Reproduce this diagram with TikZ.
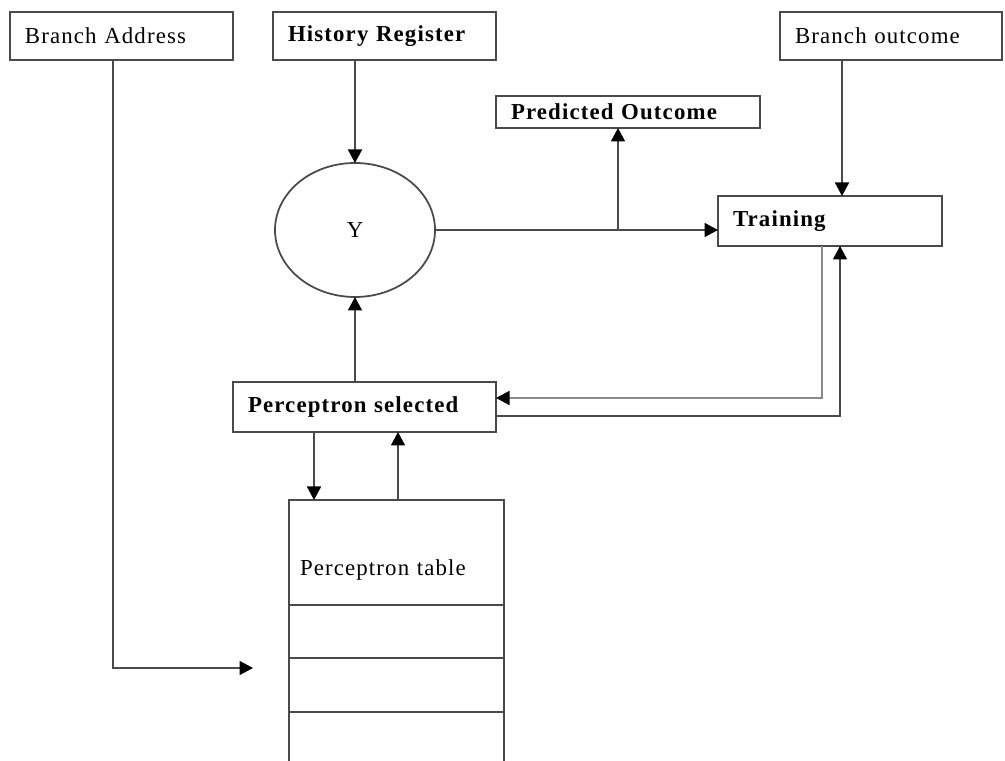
\documentclass[tikz,border=0pt]{standalone}
\usepackage{fontspec}
\setmainfont{Liberation Serif}[LetterSpace=5]
\usetikzlibrary{arrows.meta,positioning,shapes.geometric,calc}
\definecolor{ln}{HTML}{4A4A4A}
\definecolor{lite}{HTML}{8A8A8A}

\begin{document}
\begin{tikzpicture}[
  >={Triangle[length=2.7mm,width=2.8mm]},
  box/.style={draw=ln, line width=1pt, outer sep=0pt, inner xsep=0.3cm, align=left, font=\fontsize{13}{15}\selectfont},
  arr/.style={->, line width=1pt, color=ln, arrows={->[black]}},
]
\useasboundingbox (0,0) rectangle (20.1,15.22);

\node[box, text width=3.86cm, minimum height=0.96cm] (addr) at (2.43, 14.5) {Branch Address};
\node[box, text width=3.86cm, minimum height=0.96cm, font=\fontsize{13}{15}\selectfont\bfseries] (hist) at (7.69, 14.5) {History Register};
\node[box, text width=3.84cm, minimum height=0.96cm] (outc) at (17.82, 14.5) {Branch outcome};
\node[box, text width=4.68cm, minimum height=0.64cm, font=\fontsize{13}{15}\selectfont\bfseries] (pred) at (12.56, 12.98) {Predicted Outcome};
\node[box, text width=3.88cm, minimum height=1cm, font=\fontsize{13}{15}\selectfont\bfseries] (train) at (16.6, 10.8) {Training};
\node[draw=ln, line width=1pt, outer sep=0pt, ellipse, minimum width=3.2cm, minimum height=2.68cm, font=\fontsize{13}{15}\selectfont] (Y) at (7.1, 10.62) {Y};
\node[box, text width=4.66cm, minimum height=1cm, font=\fontsize{13}{15}\selectfont\bfseries] (sel) at (7.29, 7.08) {Perceptron selected};
\node[box, inner xsep=0.22cm, text width=3.86cm, text height=1cm, text depth=0.06cm, minimum height=2.1cm] (tbl) at (7.93, 4.17) {Perceptron table};

% open rows of the table
\draw[ln, line width=1pt] (tbl.south west) -- (tbl.west |- 0,0);
\draw[ln, line width=1pt] (tbl.south east) -- (tbl.east |- 0,0);
\foreach \yy in {2.06,0.98}
  \draw[ln, line width=1pt] (tbl.west |- 0,\yy) -- (tbl.east |- 0,\yy);

\coordinate (baend) at (5.06, 1.86);

\draw[arr] (hist.south -| Y.north) -- (Y.north);
\draw[arr] ([xshift=-1.7mm]addr.south) |- (baend);
\draw[arr] (Y.east) -- (Y.east -| train.west);
\draw[arr] ([xshift=-2mm]pred.south |- Y.east) -- ([xshift=-2mm]pred.south);
\draw[arr] ([xshift=2.4mm]train.north |- outc.south) -- ([xshift=2.4mm]train.north);
\draw[arr, color=lite] ([xshift=-1.6mm]train.south) |- ([yshift=1.8mm]sel.east);
\draw[arr] ([yshift=-1.8mm]sel.east) -| ([xshift=2mm]train.south);
\draw[arr] (sel.north -| Y.south) -- (Y.south);
\draw[arr] ([xshift=-1.01cm]sel.south) -- ([xshift=-1.01cm]sel.south |- tbl.north);
\draw[arr] ([xshift=0.3mm]tbl.north) -- ([xshift=0.3mm]tbl.north |- sel.south);

\end{tikzpicture}
\end{document}
